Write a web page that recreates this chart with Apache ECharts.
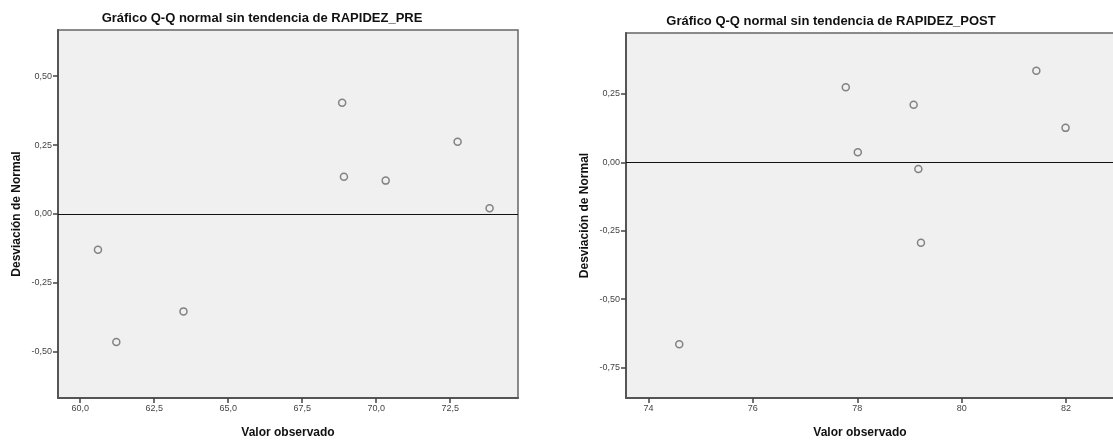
<!DOCTYPE html>
<html>
<head>
<meta charset="utf-8">
<script src="https://cdn.jsdelivr.net/npm/echarts@6/dist/echarts.min.js"></script>
<style>
    html, body { margin: 0; padding: 0; background: #ffffff; }
    #qq-charts { width: 1113px; height: 440px; }
</style>
</head>
<body>
<div id="qq-charts"></div>
<script>
// =============================== //
//
// Detrended normal Q-Q plots (PRE / POST)
//
// =============================== //

// Titles
const titlePre = "Gráfico Q-Q normal sin tendencia de RAPIDEZ_PRE";
const titlePost = "Gráfico Q-Q normal sin tendencia de RAPIDEZ_POST";
const xAxisName = "Valor observado";
const yAxisName = "Desviación de Normal";

// RAPIDEZ_PRE: observed value / deviation from normal
const preObserved = [60.6, 61.22, 63.49, 68.85, 68.91, 70.32, 72.75, 73.83];
const preDeviation = [-0.130, -0.464, -0.353, 0.403, 0.135, 0.121, 0.262, 0.021];

// RAPIDEZ_POST: observed value / deviation from normal
const postObserved = [74.59, 77.78, 78.01, 79.08, 79.17, 79.22, 81.43, 81.99];
const postDeviation = [-0.665, 0.275, 0.037, 0.211, -0.024, -0.294, 0.335, 0.126];

// Tick values
const preXTicks = [60, 62.5, 65, 67.5, 70, 72.5];
const preYTicks = [-0.5, -0.25, 0, 0.25, 0.5];
const postXTicks = [74, 76, 78, 80, 82];
const postYTicks = [-0.75, -0.5, -0.25, 0, 0.25];

// Comma decimal formatting (spanish locale)
function commaFmt(digits) {
    return function (v) {
        return Number(v).toFixed(digits).replace(".", ",");
    };
}

// Shared styles
const tickFont = { fontFamily: "Liberation Sans Narrow, Liberation Sans, sans-serif", fontSize: 9, color: "#444" };
const nameFont = { fontFamily: "Liberation Sans, Arial, sans-serif", fontSize: 12, fontWeight: "bold", color: "#111" };
const titleFont = { fontFamily: "Liberation Sans Narrow, Liberation Sans, sans-serif", fontSize: 13, fontWeight: "bold", color: "#111" };

function makeXAxis(idx, min, max, ticks, digits, namePadding) {
    return {
        gridIndex: idx,
        type: "value",
        min: min,
        max: max,
        name: xAxisName,
        nameLocation: "middle",
        nameGap: 29,
        nameTextStyle: Object.assign({ padding: namePadding }, nameFont),
        axisLine: { show: true, onZero: false, lineStyle: { color: "#555", width: 2 } },
        axisTick: { show: true, inside: false, length: 5, customValues: ticks, lineStyle: { color: "#444", width: 1.5 } },
        axisLabel: Object.assign({ customValues: ticks, margin: 6, formatter: commaFmt(digits) }, tickFont),
        splitLine: { show: false },
    };
}

function makeYAxis(idx, min, max, ticks) {
    return {
        gridIndex: idx,
        type: "value",
        min: min,
        max: max,
        name: yAxisName,
        nameLocation: "middle",
        nameGap: 35,
        nameTextStyle: nameFont,
        axisLine: { show: true, onZero: false, lineStyle: { color: "#555", width: 2 } },
        axisTick: { show: true, inside: false, length: 5, customValues: ticks, lineStyle: { color: "#444", width: 1.5 } },
        axisLabel: Object.assign({ customValues: ticks, margin: 6, formatter: commaFmt(2) }, tickFont),
        splitLine: { show: false },
    };
}

function makeSeries(idx, xs, ys) {
    return {
        type: "scatter",
        xAxisIndex: idx,
        yAxisIndex: idx,
        symbol: "circle",
        symbolSize: 7,
        itemStyle: { color: "rgba(0,0,0,0)", borderColor: "#666", borderWidth: 1.5 },
        data: xs.map((x, i) => [x, ys[i]]),
        markLine: {
            silent: true,
            symbol: ["none", "none"],
            label: { show: false },
            lineStyle: { color: "#111", width: 1, type: "solid" },
            data: [{ yAxis: 0 }],
        },
    };
}

const chart = echarts.init(document.getElementById("qq-charts"), null, { renderer: "canvas" });

let option = {
    animation: false,
    backgroundColor: "#ffffff",

    // TITLES
    title: [
        { text: titlePre, left: 257, top: 7, textAlign: "center", textStyle: titleFont },
        { text: titlePost, left: 826, top: 10, textAlign: "center", textStyle: titleFont },
    ],

    // GRIDS
    grid: [
        { left: 58, top: 30, width: 460, height: 368, outerBoundsMode: "none", containLabel: false, show: true, backgroundColor: "#f0f0f0", borderColor: "#666", borderWidth: 1.5 },
        { left: 626, top: 33, width: 497, height: 365, outerBoundsMode: "none", containLabel: false, show: true, backgroundColor: "#f0f0f0", borderColor: "#666", borderWidth: 1.5 },
    ],

    // AXES
    xAxis: [
        makeXAxis(0, 59.25, 74.79, preXTicks, 1, [0, 0, 0, 0]),
        makeXAxis(1, 73.57, 83.09, postXTicks, 0, [0, 29, 0, 0]),
    ],
    yAxis: [
        makeYAxis(0, -0.667, 0.667, preYTicks),
        makeYAxis(1, -0.862, 0.473, postYTicks),
    ],

    // SERIES
    series: [
        makeSeries(0, preObserved, preDeviation),
        makeSeries(1, postObserved, postDeviation),
    ],
};

chart.setOption(option);
</script>
</body>
</html>
